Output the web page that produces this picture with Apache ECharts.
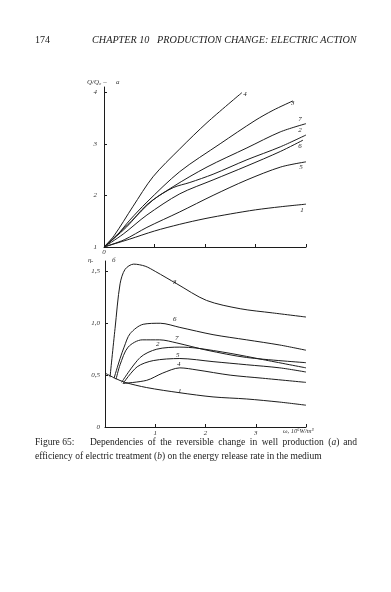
<!DOCTYPE html>
<html><head><meta charset="utf-8">
<script src="https://cdn.jsdelivr.net/npm/echarts@6/dist/echarts.min.js"></script>
<style>html,body{margin:0;padding:0;background:#fff}#c{width:391px;height:592px}</style>
</head><body><div id="c"></div>
<script>
// ---- data (a): Q/Q0 vs energy release rate ----
var a1 = [[0,1],[0.5,1.15],[1,1.31],[1.5,1.44],[2,1.55],[2.5,1.64],[3,1.72],[3.5,1.78],[4,1.83]];
var a5 = [[0,1],[0.4,1.14],[0.85,1.38],[1.5,1.68],[2.16,2.0],[2.83,2.3],[3.5,2.55],[4,2.65]];
var a6 = [[0,1],[0.38,1.25],[0.85,1.62],[1.5,2.03],[2.16,2.3],[2.83,2.57],[3.49,2.85],[3.94,3.07]];
var a2 = [[0,1],[0.5,1.46],[0.97,1.91],[1.37,2.15],[1.7,2.25],[2.16,2.41],[2.83,2.69],[3.49,2.94],[4,3.17]];
var a7 = [[0,1],[0.45,1.39],[0.85,1.82],[1.37,2.17],[2.04,2.55],[2.83,2.92],[3.49,3.23],[4,3.39]];
var a3 = [[0,1],[0.25,1.22],[0.51,1.52],[0.85,1.87],[1.5,2.46],[2.3,3.0],[2.99,3.45],[3.35,3.65],[3.74,3.83]];
var a4 = [[0,1],[0.2,1.22],[0.57,1.78],[0.97,2.36],[1.5,2.9],[2.04,3.41],[2.73,3.99]];
var namesA = ['1','5','6','2','7','3','4'];
var labelPosA = [[3.92,1.72],[3.9,2.55],[3.88,2.96],[3.88,3.27],[3.88,3.47],[3.74,3.78],[2.79,3.97]];

// ---- data (b): efficiency vs energy release rate ----
var b1 = [[0,0.52],[0.2,0.47],[0.4,0.43],[0.83,0.38],[1.49,0.33],[2.15,0.29],[2.82,0.27],[3.48,0.24],[4,0.21]];
var b4 = [[0.36,0.42],[0.83,0.45],[1.15,0.52],[1.49,0.57],[1.83,0.55],[2.49,0.5],[3.14,0.47],[4,0.43]];
var b5 = [[0.36,0.42],[0.64,0.58],[0.96,0.64],[1.49,0.66],[2.15,0.63],[2.82,0.6],[3.48,0.57],[4,0.53]];
var b2 = [[0.33,0.43],[0.7,0.67],[1.03,0.75],[1.49,0.77],[1.83,0.76],[2.49,0.71],[3.14,0.65],[4,0.57]];
var b7 = [[0.22,0.46],[0.3,0.6],[0.46,0.77],[0.74,0.84],[1.09,0.84],[1.43,0.81],[2.03,0.74],[2.82,0.67],[4,0.62]];
var b6 = [[0.18,0.47],[0.3,0.66],[0.38,0.77],[0.5,0.9],[0.76,0.99],[1.1,1.0],[1.49,0.96],[2.15,0.89],[2.82,0.84],[3.48,0.79],[4,0.74]];
var b3 = [[0.1,0.48],[0.2,0.95],[0.3,1.38],[0.4,1.52],[0.57,1.57],[0.8,1.55],[1.0,1.5],[1.43,1.38],[2.02,1.22],[2.69,1.14],[3.33,1.1],[4,1.06]];
var namesB = ['1','4','5','2','7','6','3'];
var labelPosB = [[1.49,0.35],[1.47,0.61],[1.45,0.69],[1.05,0.8],[1.43,0.86],[1.39,1.04],[1.39,1.4]];

var yTicksA = ['1','2','3','4'];
var yTicksB = ['0','0,5','1,0','1,5'];
var xTicksB = ['','1','2','3',''];

var ink = '#1c1c1c';
var serif = '"Liberation Serif", "DejaVu Serif", serif';

function mk(data, name, pos, gi){
  return {
    type:'line', xAxisIndex:gi, yAxisIndex:gi, data:data, showSymbol:false,
    smooth:0.3,
    lineStyle:{color:ink, width:1}, silent:true, animation:false,
    markPoint:{symbol:'circle', symbolSize:0, silent:true, animation:false,
      data:[{coord:pos, value:name}],
      label:{show:true, formatter:name, color:ink, fontSize:7, fontStyle:'italic', fontFamily:serif}}
  };
}
var srcA = [a1,a5,a6,a2,a7,a3,a4];
var srcB = [b1,b4,b5,b2,b7,b6,b3];
var series = [];
srcA.forEach(function(d,i){ series.push(mk(d, namesA[i], labelPosA[i], 0)); });
srcB.forEach(function(d,i){ series.push(mk(d, namesB[i], labelPosB[i], 1)); });

var axisCommon = {
  axisLine:{show:true, lineStyle:{color:ink, width:1}},
  axisTick:{show:true, inside:true, length:3, lineStyle:{color:ink}},
  splitLine:{show:false}
};
var lab = {color:'#333', fontSize:7, fontStyle:'italic', fontFamily:serif};

// justified first caption line
var capFont = '9.5px ' + serif;
var capItal = 'italic 9.5px ' + serif;
var capWords1 = ['Dependencies','of','the','reversible','change','in','well','production','(a)','and'];
var ctx = document.createElement('canvas').getContext('2d');
function wWidth(w){ ctx.font = capFont; return ctx.measureText(w).width; }
var lineL = 90, lineR = 357;
var totalW = capWords1.reduce(function(s,w){return s+wWidth(w);},0);
var gap = (lineR - lineL - totalW) / (capWords1.length - 1);
var capGraphics = [];
var xcur = lineL;
capWords1.forEach(function(w){
  var st;
  if (w === '(a)') {
    st = {rich:{n:{font:capFont, fill:'#222'}, i:{font:capItal, fill:'#222'}}, text:'{n|(}{i|a}{n|)}'};
  } else {
    st = {text:w, font:capFont, fill:'#222'};
  }
  capGraphics.push({type:'text', left:xcur, top:437, style:st});
  xcur += wWidth(w) + gap;
});

var chart = echarts.init(document.getElementById('c'), null, {renderer:'canvas'});
chart.setOption({
  animation:false,
  backgroundColor:'#fff',
  grid:[
    {left:104, top:87, width:202, height:160},
    {left:105, top:261, width:201, height:166}
  ],
  xAxis:[
    Object.assign({type:'value', gridIndex:0, min:0, max:4, interval:1,
      axisLabel:Object.assign({margin:2, formatter:function(v){return v===0?'0':'';}}, lab)}, axisCommon),
    Object.assign({type:'value', gridIndex:1, min:0, max:4, interval:1,
      axisLabel:Object.assign({margin:3, formatter:function(v){return xTicksB[Math.round(v)]||'';}}, lab)}, axisCommon)
  ],
  yAxis:[
    Object.assign({type:'value', gridIndex:0, min:1, max:4.1, interval:1,
      axisLabel:Object.assign({margin:7, showMaxLabel:false, formatter:function(v){return Number.isInteger(v)?yTicksA[v-1]:'';}}, lab)}, axisCommon),
    Object.assign({type:'value', gridIndex:1, min:0, max:1.6, interval:0.5,
      axisLabel:Object.assign({margin:5, showMaxLabel:false, formatter:function(v){var k=Math.round(v*2);return Math.abs(v*2-k)<1e-6?(yTicksB[k]||''):'';}}, lab)}, axisCommon)
  ],
  graphic:[
    {type:'text', left:35, top:35, style:{text:'174', font:'10px '+serif, fill:'#222'}},
    {type:'text', left:92, top:35, style:{text:'CHAPTER 10   PRODUCTION CHANGE: ELECTRIC ACTION', font:'italic 10.2px '+serif, fill:'#222'}},
    {type:'text', left:87, top:79, style:{text:'Q/Q\u2080 \u2013', font:'italic 7px '+serif, fill:'#333'}},
    {type:'text', left:116, top:79, style:{text:'а', font:'italic 7px '+serif, fill:'#333'}},
    {type:'text', left:88, top:257, style:{text:'η\u2091', font:'italic 7px '+serif, fill:'#333'}},
    {type:'text', left:112, top:257, style:{text:'б', font:'italic 7px '+serif, fill:'#333'}},
    {type:'text', left:283, top:428, style:{text:'ω, 10\u2076W/m\u00b3', font:'italic 6.5px '+serif, fill:'#333'}},
    {type:'text', left:35, top:437, style:{text:'Figure 65:', font:capFont, fill:'#222'}},
    {type:'text', left:35, top:451, style:{rich:{n:{font:capFont, fill:'#222'}, i:{font:capItal, fill:'#222'}},
      text:'{n|efficiency of electric treatment (}{i|b}{n|) on the energy release rate in the medium}'}}
  ].concat(capGraphics),
  series:series
});
</script></body></html>
